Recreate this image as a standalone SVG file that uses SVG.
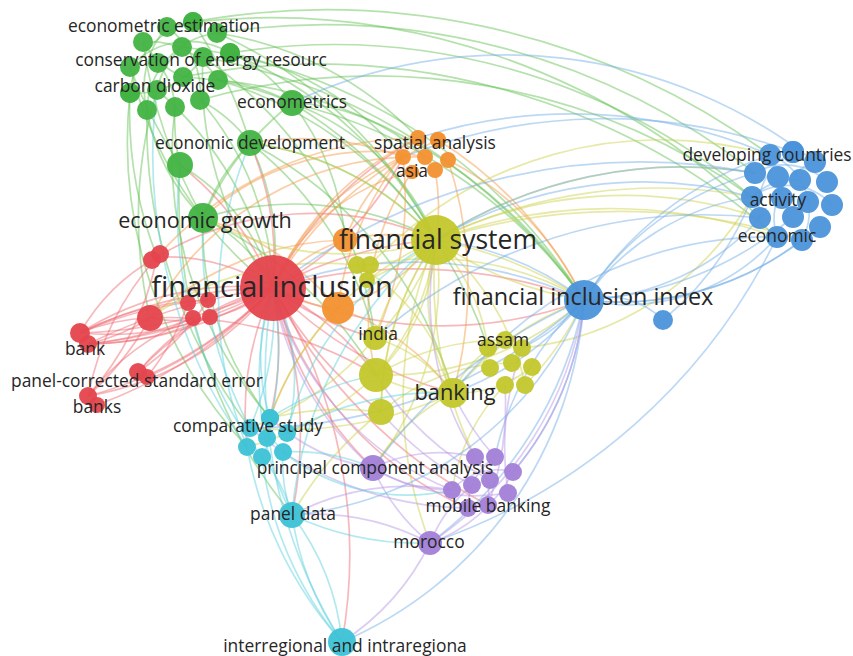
<svg xmlns="http://www.w3.org/2000/svg" width="853" height="656" viewBox="0 0 853 656">
<style>
path{fill:none;stroke-width:1.7;opacity:.48}
.er{stroke:#ee6a72}.eg{stroke:#62c052}.eb{stroke:#74aee6}.ey{stroke:#cdd14a}.ep{stroke:#b596e4}.ec{stroke:#5fd0de}.eo{stroke:#f49a4a}
circle{opacity:.95}
.nr{fill:#e5444d}.ng{fill:#42b343}.nb{fill:#4b93da}.ny{fill:#c3c72b}.np{fill:#a27fd8}.nc{fill:#3dc2d6}.no{fill:#f39130}
text{font-family:"Open Sans","DejaVu Sans",sans-serif;fill:#262626;text-anchor:middle}
.s16{font-size:17.4px}.s19{font-size:21.5px}.s20{font-size:21.8px}.s21{font-size:23.4px}.s23{font-size:26.5px}.s26{font-size:29px}
</style>
<rect width="853" height="656" fill="#ffffff"/>
<g id="connectors">
<!-- green -->
<path class="eg" d="M217 33 A700 700 0 0 1 755 173"/>
<path class="eg" d="M230 53 A650 650 0 0 1 752 197"/>
<path class="eg" d="M193 22 A700 700 0 0 1 760 218"/>
<path class="eg" d="M183 77 A700 700 0 0 1 777 237"/>
<path class="eg" d="M200 100 A650 650 0 0 1 752 197"/>
<path class="eg" d="M167 27 A750 750 0 0 1 770 155"/>
<path class="eg" d="M203 57 A600 600 0 0 1 584 300"/>
<path class="eg" d="M218 80 A500 500 0 0 1 584 300"/>
<path class="eg" d="M292 103 A500 500 0 0 1 584 300"/>
<path class="eg" d="M182 47 A550 550 0 0 1 584 300"/>
<path class="eg" d="M218 80 A400 400 0 0 1 436 240"/>
<path class="eg" d="M230 53 A400 400 0 0 1 436 240"/>
<path class="eg" d="M292 103 A250 250 0 0 1 436 240"/>
<path class="eg" d="M250 143 A300 300 0 0 1 436 240"/>
<path class="eg" d="M217 33 A350 350 0 0 1 418 138"/>
<path class="eg" d="M230 53 A300 300 0 0 1 403 157"/>
<path class="eg" d="M292 103 A200 200 0 0 1 425 157"/>
<path class="eg" d="M200 100 A300 300 0 0 1 273 288"/>
<path class="eg" d="M203 57 A350 350 0 0 0 273 288"/>
<path class="eg" d="M157 90 A350 350 0 0 1 273 288"/>
<path class="eg" d="M130 67 A400 400 0 0 0 273 288"/>
<path class="eg" d="M147 110 A500 500 0 0 0 250 428"/>
<path class="eg" d="M130 93 A450 450 0 0 0 247 447"/>
<path class="eg" d="M175 107 A400 400 0 0 0 270 418"/>
<path class="eg" d="M250 143 A250 250 0 0 1 273 288"/>
<path class="eg" d="M250 143 A350 350 0 0 1 375 338"/>
<path class="eg" d="M180 165 A200 200 0 0 1 273 288"/>
<path class="eg" d="M180 165 A500 500 0 0 0 292 515"/>
<path class="eg" d="M203 218 A150 150 0 0 1 273 288"/>
<path class="eg" d="M203 218 A300 300 0 0 1 436 240"/>
<path class="eg" d="M203 218 A300 300 0 0 0 270 418"/>
<path class="eg" d="M203 218 A400 400 0 0 1 376 375"/>
<path class="eg" d="M292 103 A250 250 0 0 1 345 240"/>
<path class="eg" d="M183 77 A300 300 0 0 1 292 103"/>
<path class="eg" d="M218 80 A200 200 0 0 1 292 103"/>
<path class="eg" d="M230 53 A150 150 0 0 1 292 103"/>
<path class="eg" d="M200 100 A150 150 0 0 1 250 143"/>
<path class="eg" d="M175 107 A200 200 0 0 0 180 165"/>
<path class="eg" d="M147 110 A200 200 0 0 0 203 218"/>
<path class="eg" d="M250 143 A200 200 0 0 0 203 218"/>
<path class="eg" d="M292 103 A300 300 0 0 0 203 218"/>
<path class="eg" d="M143 42 A80 80 0 0 1 218 80"/>
<path class="eg" d="M167 27 A80 80 0 0 1 200 100"/>
<path class="eg" d="M193 22 A80 80 0 0 0 130 93"/>
<path class="eg" d="M217 33 A80 80 0 0 0 147 110"/>
<path class="eg" d="M130 67 A80 80 0 0 1 230 53"/>
<path class="eg" d="M158 63 A80 80 0 0 1 175 107"/>
<path class="eg" d="M182 47 A80 80 0 0 0 157 90"/>
<path class="eg" d="M203 57 A80 80 0 0 1 130 93"/>
<path class="eg" d="M143 42 A90 90 0 0 0 183 77"/>
<path class="eg" d="M167 27 A90 90 0 0 0 147 110"/>
<path class="eg" d="M250 143 A400 400 0 0 1 453 393"/>
<path class="eg" d="M292 103 A450 450 0 0 1 488 348"/>
<path class="eg" d="M157 90 A450 450 0 0 0 150 318"/>
<path class="eg" d="M130 93 A400 400 0 0 0 157 257"/>
<path class="eg" d="M143 42 A500 500 0 0 0 203 218"/>
<path class="eg" d="M130 67 A450 450 0 0 0 180 165"/>
<path class="eg" d="M193 22 A450 450 0 0 1 250 143"/>
<path class="eg" d="M203 57 A400 400 0 0 1 375 338"/>
<path class="eg" d="M217 33 A450 450 0 0 1 436 240"/>
<!-- red -->
<path class="er" d="M273 288 A300 300 0 0 0 80 333"/>
<path class="er" d="M273 288 A350 350 0 0 1 88 344"/>
<path class="er" d="M273 288 A250 250 0 0 0 138 372"/>
<path class="er" d="M273 288 A300 300 0 0 1 88 396"/>
<path class="er" d="M150 318 A200 200 0 0 0 80 333"/>
<path class="er" d="M150 318 A200 200 0 0 1 88 344"/>
<path class="er" d="M157 257 A200 200 0 0 0 80 333"/>
<path class="er" d="M157 257 A300 300 0 0 1 88 396"/>
<path class="er" d="M208 300 A300 300 0 0 0 80 333"/>
<path class="er" d="M210 317 A300 300 0 0 1 88 344"/>
<path class="er" d="M193 318 A250 250 0 0 0 88 396"/>
<path class="er" d="M188 303 A250 250 0 0 1 147 377"/>
<path class="er" d="M273 288 A200 200 0 0 0 157 257"/>
<path class="er" d="M273 288 A150 150 0 0 1 150 318"/>
<path class="er" d="M273 288 A400 400 0 0 1 436 240"/>
<path class="er" d="M273 288 A500 500 0 0 1 584 300"/>
<path class="er" d="M273 288 A400 400 0 0 0 584 300"/>
<path class="er" d="M273 288 A300 300 0 0 0 375 338"/>
<path class="er" d="M273 288 A300 300 0 0 1 376 375"/>
<path class="er" d="M273 288 A400 400 0 0 0 453 393"/>
<path class="er" d="M273 288 A350 350 0 0 0 373 468"/>
<path class="er" d="M273 288 A300 300 0 0 1 270 418"/>
<path class="er" d="M273 288 A400 400 0 0 1 292 515"/>
<path class="er" d="M273 288 A300 300 0 0 0 250 143"/>
<path class="er" d="M273 288 A350 350 0 0 1 418 138"/>
<path class="er" d="M273 288 A300 300 0 0 0 403 157"/>
<path class="er" d="M273 288 A300 300 0 0 0 180 165"/>
<path class="er" d="M273 288 A500 500 0 0 0 488 505"/>
<path class="er" d="M273 288 A400 400 0 0 0 381 412"/>
<path class="er" d="M157 257 A300 300 0 0 1 436 240"/>
<path class="er" d="M150 318 A400 400 0 0 1 376 375"/>
<path class="er" d="M138 372 A300 300 0 0 1 273 288"/>
<path class="er" d="M88 396 A400 400 0 0 0 273 288"/>
<path class="er" d="M80 333 A400 400 0 0 1 208 300"/>
<path class="er" d="M80 333 A300 300 0 0 0 210 317"/>
<path class="er" d="M88 344 A400 400 0 0 0 193 318"/>
<path class="er" d="M88 396 A300 300 0 0 0 150 318"/>
<path class="er" d="M138 372 A250 250 0 0 0 208 300"/>
<path class="er" d="M157 257 A300 300 0 0 0 88 396"/>
<path class="er" d="M273 288 A300 300 0 0 0 247 447"/>
<path class="er" d="M273 288 A500 500 0 0 1 342 642"/>
<path class="er" d="M273 288 A350 350 0 0 0 468 508"/>
<path class="er" d="M80 333 A500 500 0 0 0 273 288"/>
<path class="er" d="M88 344 A600 600 0 0 1 273 288"/>
<path class="er" d="M80 333 A450 450 0 0 1 273 288"/>
<path class="er" d="M88 344 A500 500 0 0 0 273 288"/>
<path class="er" d="M97 405 A450 450 0 0 0 273 288"/>
<path class="er" d="M147 377 A400 400 0 0 0 273 288"/>
<!-- orange -->
<path class="eo" d="M418 138 A300 300 0 0 0 273 288"/>
<path class="eo" d="M403 157 A250 250 0 0 0 273 288"/>
<path class="eo" d="M438 140 A350 350 0 0 0 273 288"/>
<path class="eo" d="M412 172 A200 200 0 0 0 273 288"/>
<path class="eo" d="M425 157 A300 300 0 0 0 150 318"/>
<path class="eo" d="M403 157 A350 350 0 0 1 375 338"/>
<path class="eo" d="M435 170 A200 200 0 0 1 436 240"/>
<path class="eo" d="M448 160 A300 300 0 0 1 584 300"/>
<path class="eo" d="M438 140 A400 400 0 0 1 584 300"/>
<path class="eo" d="M412 172 A250 250 0 0 0 376 375"/>
<path class="eo" d="M345 240 A150 150 0 0 0 273 288"/>
<path class="eo" d="M338 308 A150 150 0 0 1 273 288"/>
<path class="eo" d="M338 308 A200 200 0 0 0 436 240"/>
<path class="eo" d="M345 240 A200 200 0 0 1 436 240"/>
<path class="eo" d="M338 308 A250 250 0 0 1 453 393"/>
<path class="eo" d="M345 240 A200 200 0 0 1 403 157"/>
<path class="eo" d="M338 308 A300 300 0 0 1 418 138"/>
<path class="eo" d="M338 308 A300 300 0 0 0 203 218"/>
<path class="eo" d="M425 157 A250 250 0 0 0 203 218"/>
<path class="eo" d="M448 160 A400 400 0 0 1 453 393"/>
<path class="eo" d="M338 308 A300 300 0 0 0 270 418"/>
<path class="eo" d="M345 240 A300 300 0 0 0 150 318"/>
<path class="eo" d="M418 138 A350 350 0 0 0 157 257"/>
<path class="eo" d="M403 157 A300 300 0 0 0 250 143"/>
<!-- yellow -->
<path class="ey" d="M436 240 A400 400 0 0 1 584 300"/>
<path class="ey" d="M436 240 A500 500 0 0 1 752 197"/>
<path class="ey" d="M436 240 A450 450 0 0 1 755 173"/>
<path class="ey" d="M436 240 A500 500 0 0 1 777 237"/>
<path class="ey" d="M436 240 A420 420 0 0 1 760 218"/>
<path class="ey" d="M436 240 A600 600 0 0 1 802 240"/>
<path class="ey" d="M436 240 A350 350 0 0 0 584 300"/>
<path class="ey" d="M436 240 A200 200 0 0 1 488 348"/>
<path class="ey" d="M436 240 A250 250 0 0 1 525 385"/>
<path class="ey" d="M436 240 A200 200 0 0 0 453 393"/>
<path class="ey" d="M436 240 A200 200 0 0 0 375 338"/>
<path class="ey" d="M436 240 A250 250 0 0 1 376 375"/>
<path class="ey" d="M436 240 A300 300 0 0 0 381 412"/>
<path class="ey" d="M436 240 A300 300 0 0 1 373 468"/>
<path class="ey" d="M436 240 A400 400 0 0 0 475 457"/>
<path class="ey" d="M436 240 A300 300 0 0 0 270 418"/>
<path class="ey" d="M436 240 A300 300 0 0 1 203 218"/>
<path class="ey" d="M436 240 A300 300 0 0 0 250 143"/>
<path class="ey" d="M436 240 A400 400 0 0 0 430 543"/>
<path class="ey" d="M357 265 A200 200 0 0 1 453 393"/>
<path class="ey" d="M370 265 A300 300 0 0 1 584 300"/>
<path class="ey" d="M375 338 A150 150 0 0 1 453 393"/>
<path class="ey" d="M376 375 A150 150 0 0 0 453 393"/>
<path class="ey" d="M376 375 A250 250 0 0 1 505 340"/>
<path class="ey" d="M381 412 A200 200 0 0 1 512 363"/>
<path class="ey" d="M453 393 A100 100 0 0 1 505 340"/>
<path class="ey" d="M453 393 A120 120 0 0 0 532 367"/>
<path class="ey" d="M453 393 A300 300 0 0 1 584 300"/>
<path class="ey" d="M376 375 A300 300 0 0 0 584 300"/>
<path class="ey" d="M381 412 A300 300 0 0 0 270 418"/>
<path class="ey" d="M375 338 A300 300 0 0 1 250 428"/>
<path class="ey" d="M376 375 A300 300 0 0 1 247 447"/>
<path class="ey" d="M453 393 A200 200 0 0 0 373 468"/>
<path class="ey" d="M505 385 A200 200 0 0 0 452 490"/>
<path class="ey" d="M525 385 A300 300 0 0 0 584 300"/>
<path class="ey" d="M522 348 A300 300 0 0 0 752 197"/>
<path class="ey" d="M367 280 A300 300 0 0 0 436 240"/>
<path class="ey" d="M357 265 A300 300 0 0 0 150 318"/>
<path class="ey" d="M381 412 A350 350 0 0 0 292 515"/>
<path class="ey" d="M453 393 A400 400 0 0 1 250 428"/>
<path class="ey" d="M375 338 A250 250 0 0 0 436 240"/>
<path class="ey" d="M381 412 A300 300 0 0 1 436 240"/>
<path class="ey" d="M376 375 A200 200 0 0 0 436 240"/>
<path class="ey" d="M370 265 A400 400 0 0 1 770 155"/>
<!-- blue -->
<path class="eb" d="M584 300 A250 250 0 0 1 752 197"/>
<path class="eb" d="M584 300 A250 250 0 0 0 760 218"/>
<path class="eb" d="M584 300 A300 300 0 0 1 755 173"/>
<path class="eb" d="M584 300 A200 200 0 0 0 777 237"/>
<path class="eb" d="M584 300 A300 300 0 0 0 802 240"/>
<path class="eb" d="M584 300 A350 350 0 0 1 770 155"/>
<path class="eb" d="M584 300 A80 80 0 0 1 663 320"/>
<path class="eb" d="M584 300 A300 300 0 0 1 453 393"/>
<path class="eb" d="M584 300 A200 200 0 0 1 522 348"/>
<path class="eb" d="M584 300 A300 300 0 0 1 513 472"/>
<path class="eb" d="M584 300 A300 300 0 0 0 495 457"/>
<path class="eb" d="M584 300 A400 400 0 0 1 430 543"/>
<path class="eb" d="M584 300 A300 300 0 0 0 436 240"/>
<path class="eb" d="M584 300 A400 400 0 0 0 273 288"/>
<path class="eb" d="M755 173 A450 450 0 0 0 436 240"/>
<path class="eb" d="M752 197 A400 400 0 0 0 436 240"/>
<path class="eb" d="M770 155 A500 500 0 0 0 418 138"/>
<path class="eb" d="M755 173 A600 600 0 0 0 273 288"/>
<path class="eb" d="M760 218 A500 500 0 0 0 375 338"/>
<path class="eb" d="M777 237 A400 400 0 0 0 453 393"/>
<path class="eb" d="M752 197 A300 300 0 0 1 663 320"/>
<path class="eb" d="M777 237 A600 600 0 0 1 430 543"/>
<path class="eb" d="M584 300 A400 400 0 0 1 342 642"/>
<path class="eb" d="M584 300 A350 350 0 0 1 292 515"/>
<path class="eb" d="M584 300 A500 500 0 0 1 250 428"/>
<path class="eb" d="M584 300 A500 500 0 0 0 373 468"/>
<path class="eb" d="M802 240 A300 300 0 0 1 584 300"/>
<path class="eb" d="M793 217 A350 350 0 0 1 584 300"/>
<path class="eb" d="M770 155 A60 60 0 0 1 802 240"/>
<path class="eb" d="M755 173 A60 60 0 0 1 827 182"/>
<path class="eb" d="M752 197 A60 60 0 0 1 832 205"/>
<path class="eb" d="M760 218 A60 60 0 0 1 793 152"/>
<path class="eb" d="M777 237 A60 60 0 0 1 815 162"/>
<path class="eb" d="M800 180 A60 60 0 0 0 752 197"/>
<path class="eb" d="M815 162 A500 500 0 0 0 292 103"/>
<path class="eb" d="M793 152 A550 550 0 0 0 403 157"/>
<!-- purple -->
<path class="ep" d="M373 468 A150 150 0 0 1 475 457"/>
<path class="ep" d="M373 468 A150 150 0 0 0 452 490"/>
<path class="ep" d="M373 468 A200 200 0 0 0 508 493"/>
<path class="ep" d="M430 543 A150 150 0 0 1 472 485"/>
<path class="ep" d="M430 543 A150 150 0 0 0 513 472"/>
<path class="ep" d="M430 543 A200 200 0 0 1 373 468"/>
<path class="ep" d="M430 543 A250 250 0 0 0 292 515"/>
<path class="ep" d="M430 543 A250 250 0 0 1 342 642"/>
<path class="ep" d="M430 543 A350 350 0 0 0 584 300"/>
<path class="ep" d="M513 472 A300 300 0 0 0 584 300"/>
<path class="ep" d="M495 457 A250 250 0 0 1 453 393"/>
<path class="ep" d="M475 457 A300 300 0 0 1 436 240"/>
<path class="ep" d="M490 480 A300 300 0 0 1 376 375"/>
<path class="ep" d="M452 490 A300 300 0 0 1 273 288"/>
<path class="ep" d="M468 508 A350 350 0 0 1 250 428"/>
<path class="ep" d="M373 468 A200 200 0 0 1 270 418"/>
<path class="ep" d="M373 468 A300 300 0 0 1 273 288"/>
<path class="ep" d="M452 490 A250 250 0 0 0 292 515"/>
<path class="ep" d="M508 493 A300 300 0 0 1 522 348"/>
<path class="ep" d="M488 505 A300 300 0 0 0 505 385"/>
<path class="ep" d="M472 485 A300 300 0 0 1 381 412"/>
<path class="ep" d="M475 457 A60 60 0 0 1 488 505"/>
<path class="ep" d="M452 490 A60 60 0 0 1 513 472"/>
<path class="ep" d="M468 508 A60 60 0 0 1 495 457"/>
<!-- cyan -->
<path class="ec" d="M270 418 A200 200 0 0 1 273 288"/>
<path class="ec" d="M250 428 A300 300 0 0 0 273 288"/>
<path class="ec" d="M287 433 A200 200 0 0 0 273 288"/>
<path class="ec" d="M292 515 A300 300 0 0 1 273 288"/>
<path class="ec" d="M292 515 A150 150 0 0 0 262 457"/>
<path class="ec" d="M292 515 A150 150 0 0 1 283 452"/>
<path class="ec" d="M292 515 A300 300 0 0 0 342 642"/>
<path class="ec" d="M292 515 A250 250 0 0 1 342 642"/>
<path class="ec" d="M247 447 A400 400 0 0 0 342 642"/>
<path class="ec" d="M262 457 A350 350 0 0 0 342 642"/>
<path class="ec" d="M283 452 A200 200 0 0 1 373 468"/>
<path class="ec" d="M287 433 A300 300 0 0 1 436 240"/>
<path class="ec" d="M270 418 A300 300 0 0 1 376 375"/>
<path class="ec" d="M250 428 A400 400 0 0 1 203 218"/>
<path class="ec" d="M247 447 A500 500 0 0 1 157 90"/>
<path class="ec" d="M262 457 A400 400 0 0 1 180 165"/>
<path class="ec" d="M287 433 A300 300 0 0 1 453 393"/>
<path class="ec" d="M292 515 A400 400 0 0 1 436 240"/>
<path class="ec" d="M342 642 A500 500 0 0 1 273 288"/>
<path class="ec" d="M283 452 A200 200 0 0 0 452 490"/>
<path class="ec" d="M292 515 A300 300 0 0 0 430 543"/>
<path class="ec" d="M247 447 A400 400 0 0 1 250 143"/>
<path class="ec" d="M250 428 A60 60 0 0 1 283 452"/>
<path class="ec" d="M270 418 A60 60 0 0 1 262 457"/>
<path class="ec" d="M267 438 A350 350 0 0 0 273 288"/>
</g>
<!-- unlabeled nodes -->
<g id="n-g1"><circle class="ng" cx="167" cy="27" r="10"/></g>
<g id="n-g2"><circle class="ng" cx="193" cy="22" r="10"/></g>
<g id="n-g3"><circle class="ng" cx="217" cy="33" r="10"/></g>
<g id="n-g4"><circle class="ng" cx="143" cy="42" r="10"/></g>
<g id="n-g5"><circle class="ng" cx="182" cy="47" r="10"/></g>
<g id="n-g6"><circle class="ng" cx="203" cy="57" r="10"/></g>
<g id="n-g7"><circle class="ng" cx="230" cy="53" r="10"/></g>
<g id="n-g8"><circle class="ng" cx="130" cy="67" r="10"/></g>
<g id="n-g9"><circle class="ng" cx="158" cy="63" r="10"/></g>
<g id="n-g10"><circle class="ng" cx="183" cy="77" r="10"/></g>
<g id="n-g11"><circle class="ng" cx="218" cy="80" r="10"/></g>
<g id="n-g12"><circle class="ng" cx="130" cy="93" r="10"/></g>
<g id="n-g13"><circle class="ng" cx="157" cy="90" r="10"/></g>
<g id="n-g14"><circle class="ng" cx="200" cy="100" r="10"/></g>
<g id="n-g15"><circle class="ng" cx="147" cy="110" r="10"/></g>
<g id="n-g16"><circle class="ng" cx="175" cy="107" r="10"/></g>
<g id="n-g17"><circle class="ng" cx="180" cy="165" r="13"/></g>
<g id="n-r1"><circle class="nr" cx="152" cy="260" r="9"/><circle class="nr" cx="160" cy="254" r="9"/></g>
<g id="n-r2"><circle class="nr" cx="150" cy="318" r="13"/></g>
<g id="n-r3"><circle class="nr" cx="188" cy="303" r="8"/></g>
<g id="n-r4"><circle class="nr" cx="208" cy="300" r="8"/></g>
<g id="n-r5"><circle class="nr" cx="193" cy="318" r="8"/></g>
<g id="n-r6"><circle class="nr" cx="210" cy="317" r="8"/></g>
<g id="n-o1"><circle class="no" cx="418" cy="138" r="8"/></g>
<g id="n-o2"><circle class="no" cx="438" cy="140" r="8"/></g>
<g id="n-o3"><circle class="no" cx="403" cy="157" r="8"/></g>
<g id="n-o4"><circle class="no" cx="425" cy="157" r="8"/></g>
<g id="n-o5"><circle class="no" cx="448" cy="160" r="8"/></g>
<g id="n-o6"><circle class="no" cx="435" cy="170" r="8"/></g>
<g id="n-o7"><circle class="no" cx="412" cy="172" r="7"/></g>
<g id="n-o8"><circle class="no" cx="345" cy="240" r="12"/></g>
<g id="n-o9"><circle class="no" cx="338" cy="308" r="16"/></g>
<g id="n-y1"><circle class="ny" cx="357" cy="265" r="9"/></g>
<g id="n-y2"><circle class="ny" cx="370" cy="265" r="9"/></g>
<g id="n-y3"><circle class="ny" cx="367" cy="280" r="8"/></g>
<g id="n-y4"><circle class="ny" cx="376" cy="375" r="17"/></g>
<g id="n-y5"><circle class="ny" cx="381" cy="412" r="13"/></g>
<g id="n-y6"><circle class="ny" cx="505" cy="340" r="9"/></g>
<g id="n-y7"><circle class="ny" cx="522" cy="348" r="9"/></g>
<g id="n-y8"><circle class="ny" cx="490" cy="368" r="9"/></g>
<g id="n-y9"><circle class="ny" cx="512" cy="363" r="9"/></g>
<g id="n-y10"><circle class="ny" cx="532" cy="367" r="9"/></g>
<g id="n-y11"><circle class="ny" cx="505" cy="385" r="9"/></g>
<g id="n-y12"><circle class="ny" cx="525" cy="385" r="9"/></g>
<g id="n-b1"><circle class="nb" cx="663" cy="320" r="10"/></g>
<g id="n-b2"><circle class="nb" cx="770" cy="155" r="11"/></g>
<g id="n-b3"><circle class="nb" cx="793" cy="152" r="11"/></g>
<g id="n-b4"><circle class="nb" cx="815" cy="162" r="11"/></g>
<g id="n-b5"><circle class="nb" cx="755" cy="173" r="11"/></g>
<g id="n-b6"><circle class="nb" cx="778" cy="177" r="11"/></g>
<g id="n-b7"><circle class="nb" cx="800" cy="180" r="11"/></g>
<g id="n-b8"><circle class="nb" cx="827" cy="182" r="11"/></g>
<g id="n-b9"><circle class="nb" cx="752" cy="197" r="11"/></g>
<g id="n-b10"><circle class="nb" cx="808" cy="202" r="11"/></g>
<g id="n-b11"><circle class="nb" cx="832" cy="205" r="11"/></g>
<g id="n-b12"><circle class="nb" cx="760" cy="218" r="11"/></g>
<g id="n-b13"><circle class="nb" cx="793" cy="217" r="11"/></g>
<g id="n-b14"><circle class="nb" cx="820" cy="227" r="11"/></g>
<g id="n-b15"><circle class="nb" cx="802" cy="240" r="11"/></g>
<g id="n-p1"><circle class="np" cx="475" cy="457" r="9"/></g>
<g id="n-p2"><circle class="np" cx="495" cy="457" r="9"/></g>
<g id="n-p3"><circle class="np" cx="513" cy="472" r="9"/></g>
<g id="n-p4"><circle class="np" cx="452" cy="490" r="9"/></g>
<g id="n-p5"><circle class="np" cx="472" cy="485" r="9"/></g>
<g id="n-p6"><circle class="np" cx="490" cy="480" r="9"/></g>
<g id="n-p7"><circle class="np" cx="508" cy="493" r="9"/></g>
<g id="n-p8"><circle class="np" cx="468" cy="508" r="9"/></g>
<g id="n-c1"><circle class="nc" cx="270" cy="418" r="9"/></g>
<g id="n-c2"><circle class="nc" cx="250" cy="428" r="9"/></g>
<g id="n-c3"><circle class="nc" cx="267" cy="438" r="9"/></g>
<g id="n-c4"><circle class="nc" cx="287" cy="433" r="9"/></g>
<g id="n-c5"><circle class="nc" cx="247" cy="447" r="9"/></g>
<g id="n-c6"><circle class="nc" cx="262" cy="457" r="9"/></g>
<g id="n-c7"><circle class="nc" cx="283" cy="452" r="9"/></g>
<!-- labeled nodes -->
<g id="n-econometric-estimation"><circle class="ng" cx="193" cy="22" r="10"/><text class="s16" x="164" y="32">econometric estimation</text></g>
<g id="n-conservation"><circle class="ng" cx="230" cy="53" r="10"/><text class="s16" x="201" y="66">conservation of energy resourc</text></g>
<g id="n-carbon-dioxide"><circle class="ng" cx="130" cy="93" r="10"/><text class="s16" x="155" y="92">carbon dioxide</text></g>
<g id="n-econometrics"><circle class="ng" cx="292" cy="103" r="13"/><text class="s16" x="292" y="108">econometrics</text></g>
<g id="n-economic-development"><circle class="ng" cx="250" cy="143" r="13"/><text class="s16" x="250" y="149">economic development</text></g>
<g id="n-spatial-analysis"><circle class="no" cx="438" cy="140" r="8"/><text class="s16" x="435" y="149">spatial analysis</text></g>
<g id="n-asia"><circle class="no" cx="412" cy="172" r="7"/><text class="s16" x="412" y="177">asia</text></g>
<g id="n-economic-growth"><circle class="ng" cx="203" cy="218" r="15"/><text class="s19" x="205" y="228">economic growth</text></g>
<g id="n-financial-system"><circle class="ny" cx="436" cy="240" r="25"/><text class="s23" x="438" y="249">financial system</text></g>
<g id="n-financial-inclusion"><circle class="nr" cx="273" cy="288" r="33"/><text class="s26" x="272" y="297">financial inclusion</text></g>
<g id="n-financial-inclusion-index"><circle class="nb" cx="584" cy="300" r="20"/><text class="s21" x="583" y="305">financial inclusion index</text></g>
<g id="n-developing-countries"><circle class="nb" cx="793" cy="152" r="11"/><text class="s16" x="767" y="161">developing countries</text></g>
<g id="n-activity"><circle class="nb" cx="782" cy="198" r="11"/><text class="s16" x="778" y="206">activity</text></g>
<g id="n-economic"><circle class="nb" cx="777" cy="237" r="11"/><text class="s16" x="777" y="242">economic</text></g>
<g id="n-india"><circle class="ny" cx="375" cy="338" r="12"/><text class="s16" x="378" y="340">india</text></g>
<g id="n-assam"><circle class="ny" cx="488" cy="348" r="9"/><text class="s16" x="503" y="346">assam</text></g>
<g id="n-bank"><circle class="nr" cx="80" cy="333" r="10"/><circle class="nr" cx="88" cy="344" r="9"/><text class="s16" x="85" y="355">bank</text></g>
<g id="n-panel-corrected"><circle class="nr" cx="138" cy="372" r="9"/><circle class="nr" cx="147" cy="377" r="8"/><text class="s16" x="137" y="387">panel-corrected standard error</text></g>
<g id="n-banks"><circle class="nr" cx="88" cy="396" r="9"/><circle class="nr" cx="97" cy="405" r="8"/><text class="s16" x="97" y="413">banks</text></g>
<g id="n-banking"><circle class="ny" cx="453" cy="393" r="15"/><text class="s20" x="455" y="400">banking</text></g>
<g id="n-comparative-study"><circle class="nc" cx="270" cy="418" r="9"/><text class="s16" x="248" y="432">comparative study</text></g>
<g id="n-pca"><circle class="np" cx="373" cy="468" r="13"/><text class="s16" x="375" y="474">principal component analysis</text></g>
<g id="n-mobile-banking"><circle class="np" cx="488" cy="505" r="9"/><text class="s16" x="488" y="512">mobile banking</text></g>
<g id="n-panel-data"><circle class="nc" cx="292" cy="515" r="13"/><text class="s16" x="293" y="520">panel data</text></g>
<g id="n-morocco"><circle class="np" cx="430" cy="543" r="12"/><text class="s16" x="429" y="548">morocco</text></g>
<g id="n-interregional"><circle class="nc" cx="342" cy="642" r="14"/><text class="s16" x="345" y="652">interregional and intraregiona</text></g>
</svg>
